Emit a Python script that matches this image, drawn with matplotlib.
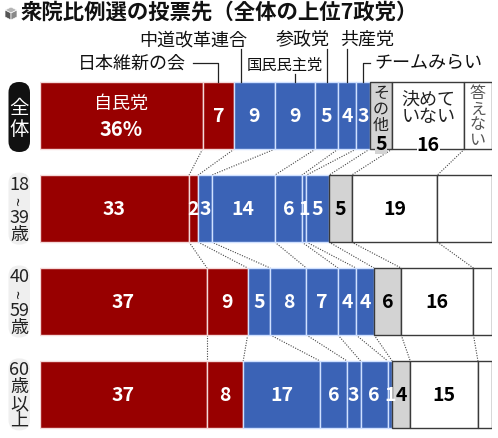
import matplotlib
matplotlib.use("Agg")
import matplotlib.pyplot as plt
from matplotlib.patches import FancyBboxPatch, Polygon
import numpy as np

plt.rcParams['font.family'] = ['Noto Sans CJK JP', 'DejaVu Sans']

# ---------------- data ----------------
parties = ['自民党', '日本維新の会', '中道改革連合', '国民民主党', '参政党',
           '共産党', 'チームみらい', 'その他', '決めていない', '答えない']
groups = ['全体', '18~39歳', '40~59歳', '60歳以上']
zentai = [36, 7, 9, 9, 5, 4, 3, 5, 16, 6]
age18_39 = [33, 2, 3, 14, 6, 1, 5, 5, 19, 12]
age40_59 = [37, 9, 5, 8, 7, 4, 4, 6, 16, 4]
age60 = [37, 8, 17, 6, 3, 6, 1, 4, 15, 3]
rows = [zentai, age18_39, age40_59, age60]
title = '衆院比例選の投票先（全体の上位7政党）'

RED = '#980000'
BLUE = '#3b63b6'
GRAY = '#d3d3d3'
WHITE = '#ffffff'
seg_colors = [RED, RED, BLUE, BLUE, BLUE, BLUE, BLUE, GRAY, WHITE, WHITE]

W, H = 498, 439
fig = plt.figure(figsize=(W / 100, H / 100), dpi=100)

# overlay axes in pixel coordinates (decorations)
ov = fig.add_axes([0, 0, 1, 1])
ov.set_xlim(0, W)
ov.set_ylim(H, 0)
ov.axis('off')

# main axes: x = percent, y = row index
X0, X1 = 40, 491.5
ROW0, STEP = 116.7, 92.9
YTOP, YBOT = ROW0 - 0.4 * STEP, ROW0 + 3.4 * STEP
ax = fig.add_axes([X0 / W, (H - YBOT) / H, (X1 - X0) / W, (YBOT - YTOP) / H])
ax.set_xlim(0, 100)
ax.set_ylim(3.4, -0.4)
ax.axis('off')
ax.patch.set_alpha(0)

PXX = (X1 - X0) / 100.0


def py(px):
    return (px - ROW0) / STEP


BH = 0.72
for i, vals in enumerate(rows):
    left = np.concatenate([[0], np.cumsum(vals)[:-1]])
    for k in range(len(vals)):
        if seg_colors[k] in (RED, BLUE):
            sep = '#f4d8d8' if seg_colors[k] == RED else '#cfe0ff'
            ax.barh(i, vals[k], left=left[k], height=BH, color=seg_colors[k],
                    edgecolor=sep, linewidth=1.0, zorder=2)
    for k in range(len(vals)):
        if seg_colors[k] in (GRAY, WHITE):
            ax.barh(i, vals[k], left=left[k], height=BH, color=seg_colors[k],
                    edgecolor='#3a3a3a', linewidth=1.0, zorder=3)

# value labels
num_fs = 14
for i, vals in enumerate(rows):
    left = np.concatenate([[0], np.cumsum(vals)[:-1]])
    centers = left + np.array(vals) / 2
    for k, v in enumerate(vals):
        if i == 0 and k in (0, 7, 8, 9):
            continue
        if i > 0 and k == 9:
            continue
        col = 'white' if seg_colors[k] in (RED, BLUE) else 'black'
        ax.text(centers[k], i, str(v), ha='center', va='center', color=col,
                fontsize=num_fs, fontweight='bold', zorder=5)

# special labels for the 全体 row
c0 = np.concatenate([[0], np.cumsum(zentai)[:-1]]) + np.array(zentai) / 2
ax.text(c0[0], py(103.5), parties[0], ha='center', va='center', color='white',
        fontsize=13, zorder=5)
ax.text(c0[0], py(130), f'{zentai[0]}%', ha='center', va='center', color='white',
        fontsize=14.5, fontweight='bold', zorder=5)
ax.text(c0[7], py(109), '\n'.join(parties[7]), ha='center', va='center',
        color='#222222', fontsize=11.5, linespacing=0.92, zorder=5)
ax.text(c0[7], py(145), str(zentai[7]), ha='center', va='center', color='black',
        fontsize=num_fs, fontweight='bold', zorder=6,
        bbox=dict(boxstyle='square,pad=0.0', fc=GRAY, ec='none'))
ax.text(c0[8], py(108), '決めて\nいない', ha='center', va='center', color='#222222',
        fontsize=13, linespacing=0.95, zorder=5)
ax.text(c0[8], py(145.5), str(zentai[8]), ha='center', va='center', color='black',
        fontsize=num_fs, fontweight='bold', zorder=6,
        bbox=dict(boxstyle='square,pad=0.0', fc='white', ec='none'))
ax.text(c0[9], py(117), '\n'.join(parties[9]), ha='center', va='center',
        color='#555555', fontsize=11.5, linespacing=0.92, zorder=5)

# dotted connectors between rows
for i in range(len(rows) - 1):
    a = np.cumsum(rows[i])[:-1]
    b = np.cumsum(rows[i + 1])[:-1]
    for xa, xb in zip(a, b):
        ax.plot([xa, xb], [i + BH / 2, i + 1 - BH / 2], color='#444444',
                linestyle=(0, (1, 1.3)), linewidth=0.8, clip_on=False, zorder=1)

# header party labels with leader lines
top = -BH / 2
s0 = np.concatenate([[0], np.cumsum(zentai)[:-1]])
lc = '#222222'
lw = 0.9
hfs = 13
# 日本維新の会
xc = c0[1]
ax.plot([xc - (xc * PXX + X0 - 193) / PXX, xc, xc], [py(63.5), py(63.5), top],
        color=lc, lw=lw, clip_on=False)
ax.text((186 - X0) / PXX, py(64), parties[1], ha='right', va='center',
        fontsize=hfs, color='#111111')
# 中道改革連合
xl = s0[2] + 1.5
ax.plot([xl, xl], [py(50), top], color=lc, lw=lw, clip_on=False)
ax.text((193.5 - X0) / PXX, py(40), parties[2], ha='center', va='center',
        fontsize=hfs, color='#111111')
# 国民民主党
ax.plot([c0[3], c0[3]], [py(75), top], color=lc, lw=lw, clip_on=False)
ax.text((284.5 - X0) / PXX, py(65), parties[3], ha='center', va='center',
        fontsize=11, color='#111111')
# 参政党
ax.plot([c0[4], c0[4]], [py(50), top], color=lc, lw=lw, clip_on=False)
ax.text((303 - X0) / PXX, py(40), parties[4], ha='center', va='center',
        fontsize=hfs, color='#111111')
# 共産党
ax.plot([c0[5], c0[5]], [py(50), top], color=lc, lw=lw, clip_on=False)
ax.text((367 - X0) / PXX, py(40), parties[5], ha='center', va='center',
        fontsize=hfs, color='#111111')
# チームみらい
ax.plot([c0[6] + 1.6, c0[6], c0[6]], [py(63.5), py(63.5), top],
        color=lc, lw=lw, clip_on=False)
ax.text((374 - X0) / PXX, py(63), parties[6], ha='left', va='center',
        fontsize=hfs, color='#111111')

# row labels (pills)
for i, g in enumerate(groups):
    cy = ROW0 + i * STEP
    if i == 0:
        ov.add_patch(FancyBboxPatch((8.5, 83), 21.5, 70, boxstyle='round,pad=0,rounding_size=10.5',
                                    fc='#111111', ec='none'))
        ov.text(19.3, 119, '\n'.join(g), ha='center', va='center', color='white',
                fontsize=14, linespacing=0.95)
    else:
        ov.add_patch(FancyBboxPatch((8.5, cy - 36), 21.5, 72, boxstyle='round,pad=0,rounding_size=10.5',
                                    fc='#efefef', ec='none'))
        if '~' in g:
            a, rest = g.split('~')
            b, c = rest[:-1], rest[-1]
            parts = [a, '~', b, c]
        else:
            parts = [g[:2], g[2], g[3], g[4]]
        for j, p in enumerate(parts):
            yy = cy - 25 + j * 16.7
            if p == '~':
                ov.text(19.3, yy, p, ha='center', va='center', rotation=90,
                        fontsize=12, color='#222222')
            else:
                ov.text(19.3, yy, p, ha='center', va='center', fontsize=13,
                        color='#222222')

# title with cube icon
ov.add_patch(Polygon([[5, 11], [11, 8], [17, 11], [11, 14]], closed=True, fc='#b5b5b5', ec='white', lw=0.5))
ov.add_patch(Polygon([[5, 11], [11, 14], [11, 21], [5, 18]], closed=True, fc='#555555', ec='white', lw=0.5))
ov.add_patch(Polygon([[11, 14], [17, 11], [17, 18], [11, 21]], closed=True, fc='#888888', ec='white', lw=0.5))
ov.text(21, 12.5, title, ha='left', va='center', fontsize=15.4, fontweight='bold',
        color='#111111')

fig.savefig('out.png', dpi=100, facecolor='white')
